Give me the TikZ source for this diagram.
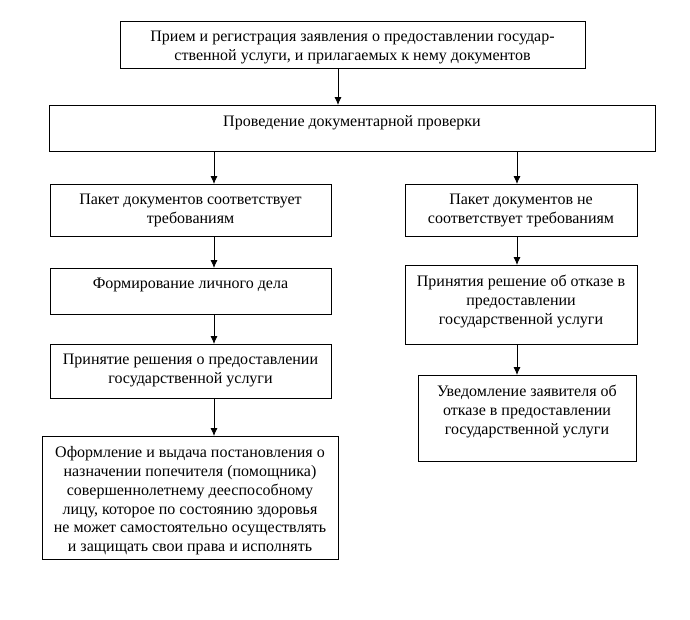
\documentclass[tikz,border=0pt]{standalone}
\usepackage{fontspec}
\setmainfont{Liberation Serif}
\usetikzlibrary{arrows.meta}
\newcommand\bxtext[3]{\parbox[c][#2][t]{#1}{\centering\vspace{10.5pt}#3\par}}
\tikzset{
  blk/.style={draw=black, line width=1pt, inner sep=0pt, outer sep=0pt,
    font=\fontsize{16}{18.8}\selectfont, align=center},
  arr/.style={draw=black, line width=0.8pt, -{Latex[length=8pt,width=7pt]}}
}
\begin{document}
\begin{tikzpicture}[x=1pt,y=-1pt]
\useasboundingbox (0,0) rectangle (690,619);
% boxes
\node[blk] (b1) at (352.5,44.5) {\bxtext{465pt}{47pt}{Прием и регистрация заявления о предоставлении государ-\\ственной услуги, и прилагаемых к нему документов}};
\node[blk] (b2) at (352,128) {\bxtext{606pt}{46pt}{Проведение документарной проверки}};
\node[blk] (b3) at (190.5,210) {\bxtext{281pt}{52pt}{Пакет документов соответствует\\требованиям}};
\node[blk] (b4) at (521,210) {\bxtext{232pt}{52pt}{Пакет документов не\\соответствует требованиям}};
\node[blk] (b5) at (190.5,291) {\bxtext{281pt}{46pt}{Формирование личного дела}};
\node[blk] (b6) at (190.5,371) {\bxtext{281pt}{54pt}{Принятие решения о предоставлении\\государственной услуги}};
\node[blk] (b7) at (190,497.5) {\bxtext{296pt}{123pt}{Оформление и выдача постановления о\\назначении попечителя (помощника)\\совершеннолетнему дееспособному\\лицу, которое по состоянию здоровья\\не может самостоятельно осуществлять\\и защищать свои права и исполнять}};
\node[blk] (b8) at (521,304.5) {\bxtext{232pt}{79pt}{Принятия решение об отказе в\\предоставлении\\государственной услуги}};
\node[blk] (b9) at (527,418) {\bxtext{218pt}{86pt}{Уведомление заявителя об\\отказе в предоставлении\\государственной услуги}};
% connector columns
\coordinate (xm) at (338,0);
\coordinate (xl) at (214,0);
\coordinate (xr) at (517,0);
% connectors
\draw[arr] (b1.south -| xm) -- (b2.north -| xm);
\draw[arr] (b2.south -| xl) -- (b3.north -| xl);
\draw[arr] (b2.south -| xr) -- (b4.north -| xr);
\draw[arr] (b3.south -| xl) -- (b5.north -| xl);
\draw[arr] (b5.south -| xl) -- (b6.north -| xl);
\draw[arr] (b6.south -| xl) -- (b7.north -| xl);
\draw[arr] (b4.south -| xr) -- (b8.north -| xr);
\draw[arr] (b8.south -| xr) -- (b9.north -| xr);
\end{tikzpicture}
\end{document}
